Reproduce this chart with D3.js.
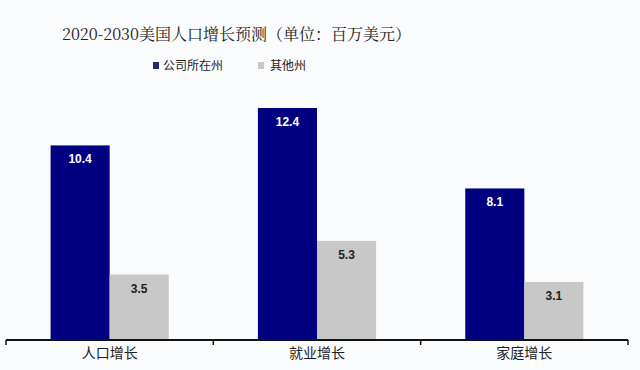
<!DOCTYPE html>
<html>
<head>
<meta charset="utf-8">
<script src="https://cdn.jsdelivr.net/npm/d3@7"></script>
<style>
  body { margin: 0; background: #fafbfc; }
  svg { display: block; }
  .cat { font-family: "Noto Sans CJK SC", sans-serif; font-size: 14px; fill: #222; }
  .val { font-family: "Liberation Sans", Arial, sans-serif; font-size: 12px; font-weight: bold; }
</style>
</head>
<body>
<div id="chart"></div>
<script>
// data
var categories = ["人口增长", "就业增长", "家庭增长"];
var seriesNames = ["公司所在州", "其他州"];
var hqStates = [10.4, 12.4, 8.1];
var otherStates = [3.5, 5.3, 3.1];
var colors = ["#000080", "#c8c8c8"];
var labelColors = ["#ffffff", "#222222"];
var title = "2020-2030美国人口增长预测（单位：百万美元）";

var width = 640, height = 370;
var margin = {top: 60, right: 12, bottom: 30, left: 6};

var svg = d3.select("#chart").append("svg")
  .attr("width", width)
  .attr("height", height);

svg.append("rect")
  .attr("width", width)
  .attr("height", height)
  .attr("fill", "#fafbfc");

var x0 = d3.scaleBand()
  .domain(categories)
  .range([margin.left, width - margin.right])
  .paddingInner(0)
  .paddingOuter(0);

var x1 = d3.scaleBand()
  .domain(d3.range(2))
  .range([0, x0.bandwidth() * 0.57]);

var groupOffset = (x0.bandwidth() - x0.bandwidth() * 0.57) / 2;

var y = d3.scaleLinear()
  .domain([0, 12.4])
  .range([340, 108]);

var series = [hqStates, otherStates];

var groups = svg.selectAll(".grp")
  .data(categories)
  .enter().append("g")
  .attr("class", "grp")
  .attr("transform", function(d) { return "translate(" + (x0(d) + groupOffset) + ",0)"; });

groups.each(function(cat, ci) {
  var g = d3.select(this);
  series.forEach(function(s, si) {
    g.append("rect")
      .attr("x", x1(si))
      .attr("y", y(s[ci]))
      .attr("width", x1.bandwidth())
      .attr("height", y(0) - y(s[ci]))
      .attr("fill", colors[si]);
    g.append("text")
      .attr("class", "val")
      .attr("x", x1(si) + x1.bandwidth() / 2)
      .attr("y", y(s[ci]) + 18)
      .attr("text-anchor", "middle")
      .attr("fill", labelColors[si])
      .text(s[ci]);
  });
});

// x axis
var xAxis = d3.axisBottom(x0).tickSize(0).tickPadding(8);
var ax = svg.append("g")
  .attr("transform", "translate(0," + y(0) + ")")
  .call(xAxis);
ax.select(".domain").remove();
ax.selectAll("text").attr("class", "cat").attr("font-family", null).attr("font-size", null);

ax.append("line")
  .attr("x1", x0.range()[0])
  .attr("x2", x0.range()[1])
  .attr("stroke", "#111")
  .attr("stroke-width", 2);

var edges = categories.map(function(c) { return x0(c); }).concat([x0.range()[1]]);
ax.selectAll(".edge")
  .data(edges)
  .enter().append("line")
  .attr("class", "edge")
  .attr("x1", function(d) { return d; })
  .attr("x2", function(d) { return d; })
  .attr("y1", 0)
  .attr("y2", 5)
  .attr("stroke", "#111")
  .attr("stroke-width", 1.5);

// title
svg.append("text")
  .attr("x", 62)
  .attr("y", 40)
  .attr("font-family", "'Noto Serif CJK SC', 'Noto Sans CJK SC', serif")
  .attr("font-size", 16)
  .attr("fill", "#222")
  .text(title);

// legend
var legendX = [153, 258];
var legend = svg.selectAll(".leg")
  .data(seriesNames)
  .enter().append("g")
  .attr("class", "leg")
  .attr("transform", function(d, i) { return "translate(" + legendX[i] + ",61)"; });

legend.append("rect")
  .attr("width", 6)
  .attr("height", 7)
  .attr("y", 1)
  .attr("fill", function(d, i) { return i === 0 ? "#1f2d6b" : "#c8c8c8"; });

legend.append("text")
  .attr("x", function(d, i) { return i === 0 ? 10 : 12; })
  .attr("y", 9)
  .attr("font-family", "'Noto Sans CJK SC', sans-serif")
  .attr("font-size", 12)
  .attr("fill", "#222")
  .text(function(d) { return d; });
</script>
</body>
</html>
